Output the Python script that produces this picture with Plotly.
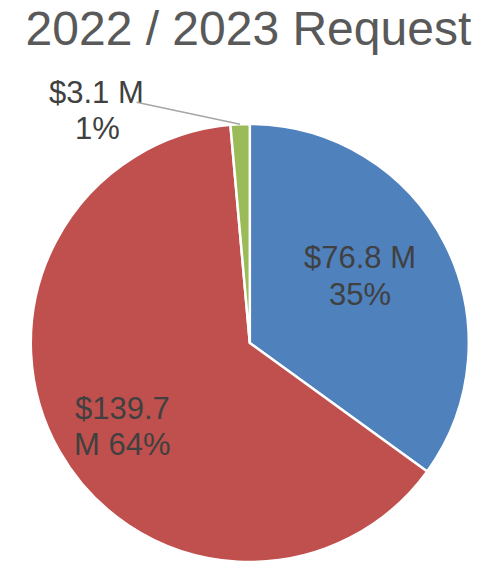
import math
import plotly.graph_objects as go

# data
labels = ["Blue", "Red", "Green"]
values = [76.8, 139.7, 3.1]
colors = ["#4F81BD", "#C0504D", "#9BBB59"]
title_text = "2022 / 2023 Request"

W, H = 495, 561
FONT = "Liberation Sans, Arial"
LABEL_COLOR = "#404040"

# pie geometry in figure pixels
cx, cy, r = 241.8, 335.0, 219.0
dom_x = [(cx - r) / W, (cx + r) / W]
dom_y = [(H - cy - r) / H, (H - cy + r) / H]

fig = go.Figure(go.Pie(
    labels=labels,
    values=values,
    sort=False,
    direction="clockwise",
    rotation=0,
    marker=dict(colors=colors, line=dict(color="white", width=2.5)),
    textinfo="none",
    hoverinfo="label+value+percent",
    showlegend=False,
    domain=dict(x=dom_x, y=dom_y),
))

total = sum(values)
pct = [v / total for v in values]

# label lines: (text, x, y) in figure pixels
label_lines = [
    (f"${values[0]:.1f} M", 351.5, 249),
    (f"{pct[0]:.0%}", 351.5, 286),
    (f"${values[1]:.1f}", 114, 400),
    (f"M {pct[1]:.0%}", 114, 436),
    (f"${values[2]:.1f} M", 88.5, 85),
    (f"{pct[2]:.0%}", 89, 120.5),
]
for text, x, y in label_lines:
    fig.add_annotation(
        x=x / W, y=1 - y / H, xref="paper", yref="paper",
        text=text, showarrow=False, xanchor="center", yanchor="middle",
        font=dict(family=FONT, size=31, color=LABEL_COLOR),
    )

# leader line for the small slice, to its mid-angle on the rim
theta = 2 * math.pi * (values[0] + values[1] + values[2] / 2) / total
tip_x = cx + r * math.sin(theta)
tip_y = cy - r * math.cos(theta)
tail_x, tail_y = 127, 94
fig.add_annotation(
    x=tip_x / W, y=1 - tip_y / H, xref="paper", yref="paper",
    ax=tail_x - tip_x, ay=tail_y - tip_y,
    text="", showarrow=True, arrowhead=0, arrowwidth=1.5, arrowcolor="#A6A6A6",
)

fig.update_layout(
    width=W, height=H,
    margin=dict(l=0, r=0, t=0, b=0),
    paper_bgcolor="white",
    title=dict(text=title_text, x=240.4 / W, xanchor="center", y=1 - 20.5 / H,
               yanchor="middle", yref="container",
               font=dict(family=FONT, size=48, color="#595959")),
)

fig.write_html("out.html")
